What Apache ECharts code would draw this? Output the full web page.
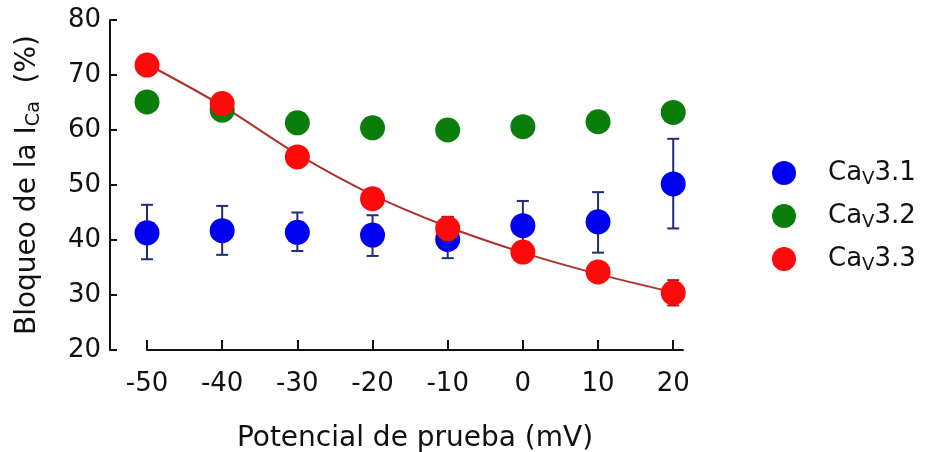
<!DOCTYPE html>
<html>
<head>
<meta charset="utf-8">
<script src="https://cdn.jsdelivr.net/npm/echarts@6/dist/echarts.min.js"></script>
<style>
  html, body { margin: 0; padding: 0; background: #fff; }
  #chart { width: 931px; height: 452px; }
</style>
</head>
<body>
<div id="chart"></div>
<script>
// potenciales de prueba (mV)
const potentials = [-50, -40, -30, -20, -10, 0, 10, 20];
const xTicks = [-50, -40, -30, -20, -10, 0, 10, 20];

// CaV3.1 (media y barras de error)
const cav31Mean = [41.3, 41.7, 41.4, 40.9, 40.1, 42.6, 43.3, 50.2];
const cav31Low = [36.5, 37.3, 38.0, 37.1, 36.7, 38.1, 37.7, 42.1];
const cav31High = [46.4, 46.2, 45.0, 44.5, 44.2, 47.1, 48.7, 58.4];

// CaV3.2
const cav32Mean = [65.1, 63.6, 61.3, 60.4, 60.0, 60.6, 61.5, 63.2];

// CaV3.3
const cav33Mean = [71.8, 64.8, 55.1, 47.5, 42.1, 37.8, 34.2, 30.4];
const cav33Low = [70.9, 63.9, 54.2, 46.6, 40.0, 36.9, 33.3, 28.1];
const cav33High = [72.7, 65.7, 56.0, 48.4, 44.2, 38.7, 35.1, 32.7];

// curva de ajuste
const fitCurve = [72.0, 64.4, 55.6, 48.2, 42.4, 37.7, 33.8, 30.5];

const names = ['CaV3.1', 'CaV3.2', 'CaV3.3'];
const FONT = 'DejaVu Sans';

const pairs = (ys) => potentials.map((x, i) => [x, ys[i]]);
const bars = (lo, hi) => potentials.map((x, i) => [x, lo[i], hi[i]]);

const errorBars = (color) => (params, api) => {
    const x = api.value(0);
    const lo = api.coord([x, api.value(1)]);
    const hi = api.coord([x, api.value(2)]);
    const w = 6;
    const st = { stroke: color, lineWidth: 2 };
    return {
        type: 'group',
        children: [
            { type: 'line', shape: { x1: lo[0], y1: lo[1], x2: hi[0], y2: hi[1] }, style: st },
            { type: 'line', shape: { x1: hi[0] - w, y1: hi[1], x2: hi[0] + w, y2: hi[1] }, style: st },
            { type: 'line', shape: { x1: lo[0] - w, y1: lo[1], x2: lo[0] + w, y2: lo[1] }, style: st }
        ]
    };
};

const chart = echarts.init(document.getElementById('chart'));
chart.setOption({
    animation: false,
    backgroundColor: '#fff',
    grid: { left: 147, right: 248, top: 20, bottom: 102, outerBoundsMode: 'none' },
    xAxis: {
        type: 'value',
        min: -50,
        max: 21.3,
        interval: 10,
        name: 'Potencial de prueba (mV)',
        nameLocation: 'middle',
        nameGap: 75,
        nameTextStyle: { fontFamily: FONT, fontSize: 28, color: '#111' },
        axisLine: { show: true, onZero: false, lineStyle: { color: '#111', width: 2 } },
        axisTick: { show: true, inside: true, length: 10, customValues: xTicks, lineStyle: { color: '#111', width: 2 } },
        axisLabel: { customValues: xTicks, margin: 21, fontFamily: FONT, fontSize: 26, color: '#111' },
        splitLine: { show: false }
    },
    yAxis: {
        type: 'value',
        min: 20,
        max: 80,
        interval: 10,
        offset: 37,
        name: '{a|Bloqueo de la I}{s|Ca}{a|  (%)}',
        nameLocation: 'middle',
        nameRotate: 90,
        nameGap: 66,
        nameTextStyle: {
            rich: {
                a: { fontFamily: FONT, fontSize: 28, lineHeight: 32, color: '#111' },
                s: { fontFamily: FONT, fontSize: 19, lineHeight: 17, verticalAlign: 'bottom', color: '#111' }
            }
        },
        axisLine: { show: true, onZero: false, lineStyle: { color: '#111', width: 2 } },
        axisTick: { show: true, inside: true, length: 7, lineStyle: { color: '#111', width: 2 } },
        axisLabel: { margin: 9, fontFamily: FONT, fontSize: 26, color: '#111' },
        splitLine: { show: false }
    },
    legend: {
        data: names,
        orient: 'vertical',
        left: 767,
        top: 155,
        itemWidth: 78,
        itemHeight: 24,
        itemGap: 15,
        icon: 'circle',
        formatter: (n) => '{n|Ca}{s|V}{n|' + n.slice(3) + '}',
        textStyle: {
            rich: {
                n: { fontFamily: FONT, fontSize: 26, lineHeight: 30, color: '#111' },
                s: { fontFamily: FONT, fontSize: 18, lineHeight: 16, verticalAlign: 'bottom', color: '#111' }
            }
        }
    },
    series: [
        {
            name: 'ajuste',
            type: 'line',
            data: pairs(fitCurve),
            smooth: 0.3,
            symbol: 'none',
            lineStyle: { color: '#b0302a', width: 2 },
            z: 1
        },
        {
            name: 'err31',
            type: 'custom',
            data: bars(cav31Low, cav31High),
            encode: { x: 0, y: [1, 2] },
            renderItem: errorBars('#1f2c78'),
            z: 2
        },
        {
            name: names[0],
            type: 'scatter',
            data: pairs(cav31Mean),
            symbolSize: 25,
            itemStyle: { color: '#0000f0', opacity: 1 },
            z: 3
        },
        {
            name: names[1],
            type: 'scatter',
            data: pairs(cav32Mean),
            symbolSize: 25,
            itemStyle: { color: '#0b7d0b', opacity: 1 },
            z: 3
        },
        {
            name: 'err33',
            type: 'custom',
            data: bars(cav33Low, cav33High),
            encode: { x: 0, y: [1, 2] },
            renderItem: errorBars('#a01a1a'),
            z: 4
        },
        {
            name: names[2],
            type: 'scatter',
            data: pairs(cav33Mean),
            symbolSize: 25,
            itemStyle: { color: '#ff0a0a', opacity: 1 },
            z: 5
        }
    ]
});
</script>
</body>
</html>
